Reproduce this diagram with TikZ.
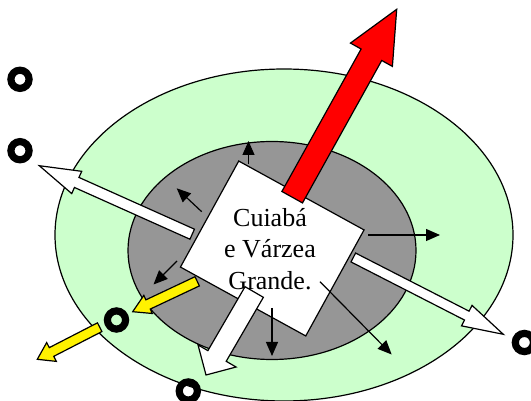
\documentclass[tikz,border=0pt]{standalone}
\usepackage{fontspec}
\setmainfont{Liberation Serif}
\usetikzlibrary{calc,arrows.meta,shapes.geometric}
\definecolor{lgreen}{RGB}{204,255,204}
\definecolor{mgray}{RGB}{150,150,150}
% #1 style, #2 tail, #3 tip, #4 half shaft, #5 half head, #6 head length
\newcommand{\blockarrow}[6]{%
  \path ($(#3)!#6!(#2)$) coordinate (ba-h);
  \draw[#1] ($(#2)!#4!90:(#3)$) -- ($(ba-h)!#4!90:(#3)$) -- ($(ba-h)!#5!90:(#3)$)
    -- (#3) -- ($(ba-h)!#5!-90:(#3)$) -- ($(ba-h)!#4!-90:(#3)$) -- ($(#2)!#4!-90:(#3)$) -- cycle;
}
\tikzset{
  outline/.style={draw=black, line width=1.2pt},
  thinarrow/.style={draw=black, line width=1.2pt, -{Triangle[length=14pt,width=12pt]}},
  ring/.style={draw=black, line width=7.2pt},
}
\begin{document}
\begin{tikzpicture}[x=1pt,y=-1pt]
\useasboundingbox (0,0) rectangle (531,401);
\clip (0,0) rectangle (531,401);
% zones
\node[ellipse, outline, fill=lgreen, minimum width=458pt, minimum height=332pt, inner sep=0] (outer) at (284,235) {};
\node[ellipse, outline, fill=mgray, minimum width=288pt, minimum height=218pt, inner sep=0] (inner) at (272,250.5) {};
% coordinates of block arrows
\coordinate (lwT) at (192.2,234.2); \coordinate (lwP) at (39.3,165.7);
\coordinate (rwT) at (353.3,257.5); \coordinate (rwP) at (503.3,334.3);
\coordinate (redT) at (292.2,197.2); \coordinate (redP) at (396.7,9.3);
\coordinate (bwT) at (254.2,292); \coordinate (bwP) at (206,375);
\coordinate (y1T) at (197.2,281.3); \coordinate (y1P) at (132.7,311.7);
\coordinate (y2T) at (99.7,327.2); \coordinate (y2P) at (37.3,359.3);
\blockarrow{outline, fill=white}{lwT}{lwP}{5.5pt}{12.2pt}{41pt}
\blockarrow{outline, fill=white}{rwT}{rwP}{5pt}{11.5pt}{41pt}
% city square
\node[outline, fill=white, minimum width=143pt, minimum height=121pt, rotate=-28.8, inner sep=0] (city) at (272.25,248.5) {};
\node[font=\fontsize{26}{31.4}\selectfont, align=center, inner sep=0] (label) at (270,249) {Cuiabá\\e Várzea\\Grande.};
\blockarrow{outline, fill=red}{redT}{redP}{11.8pt}{24pt}{52pt}
\blockarrow{outline, fill=white}{bwT}{bwP}{10.6pt}{22pt}{22pt}
\blockarrow{outline, fill=yellow}{y1T}{y1P}{5.1pt}{10pt}{17pt}
\blockarrow{outline, fill=yellow}{y2T}{y2P}{4.9pt}{10.6pt}{16pt}
% thin arrows
\coordinate (a1s) at (248.5,164); \coordinate (a1e) at (248.5,141);
\coordinate (a2s) at (201.7,211.7); \coordinate (a2e) at (176.7,188.3);
\coordinate (a3s) at (368.3,235); \coordinate (a3e) at (440,235);
\coordinate (a4s) at (177,261); \coordinate (a4e) at (153.5,284.5);
\coordinate (a5s) at (272,308); \coordinate (a5e) at (272,356);
\coordinate (a6s) at (320,281.7); \coordinate (a6e) at (391.7,354.5);
\draw[thinarrow] (a1s) -- (a1e);
\draw[thinarrow] (a2s) -- (a2e);
\draw[thinarrow] (a3s) -- (a3e);
\draw[thinarrow] (a4s) -- (a4e);
\draw[thinarrow] (a5s) -- (a5e);
\draw[thinarrow] (a6s) -- (a6e);
% rings
\coordinate (r1) at (20,79.3);
\coordinate (r2) at (20,150.7);
\coordinate (r3) at (116.5,320);
\coordinate (r4) at (188.3,391);
\coordinate (r5) at (524.4,342.5);
\foreach \r in {r1,r2,r3,r4,r5} \draw[ring] (\r) circle[radius=9.1pt];
\end{tikzpicture}
\end{document}
